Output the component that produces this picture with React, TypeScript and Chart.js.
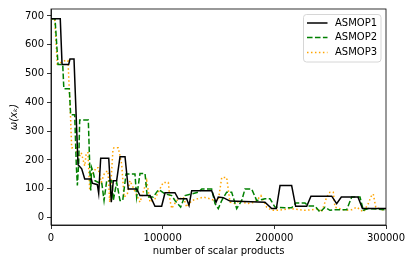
import React, { useEffect, useRef } from "react";
import { Chart, registerables } from "chart.js";

Chart.register(...registerables);

const xTickValues = [0, 100000, 200000, 300000];
const yTickValues = [0, 100, 200, 300, 400, 500, 600, 700];
const seriesLabels = ["ASMOP1", "ASMOP2", "ASMOP3"];
const xTitle = "number of scalar products";
const yTitle = "ω(xₖ)";

const asmop1X = [0, 8300, 9900, 15800, 17000, 20600, 24200, 27500, 30200, 36100, 37000, 41500, 42700, 44500, 51700, 54000, 55800, 58800, 61800, 66300, 69200, 76700, 79700, 88700, 93100, 99100, 102100, 111000, 114000, 121500, 123600, 126000, 143900, 147800, 149800, 154300, 160300, 191600, 197600, 201800, 205100, 215500, 219100, 229000, 232800, 251400, 255800, 260000, 274900, 278900, 300000];
const asmop1Y = [690, 690, 531, 531, 550, 550, 183, 169, 134, 134, 119, 114, 84, 206, 206, 53, 128, 128, 211, 211, 99, 99, 76, 76, 39, 39, 86, 86, 65, 65, 42, 93, 93, 53, 71, 69, 57, 53, 31, 31, 111, 111, 39, 39, 74, 74, 48, 71, 71, 31, 31];

const asmop2X = [0, 3600, 6300, 10500, 11500, 16400, 17600, 21200, 22700, 23600, 24800, 25700, 33400, 34700, 35600, 36400, 37900, 39400, 42400, 45400, 47500, 49900, 54400, 55800, 58800, 61800, 64200, 67200, 75200, 76700, 79700, 84200, 86200, 91600, 96100, 97600, 102100, 108100, 111000, 116100, 120000, 131900, 135000, 143900, 146900, 149800, 152900, 157300, 161800, 166300, 170800, 173700, 179700, 184200, 191600, 196100, 200600, 209500, 215500, 219100, 227500, 230500, 236400, 240900, 245400, 249800, 254300, 264800, 269300, 276700, 279700, 284100, 300000];
const asmop2Y = [690, 690, 531, 531, 447, 447, 357, 357, 179, 111, 191, 339, 339, 179, 94, 173, 156, 128, 122, 122, 59, 128, 128, 59, 122, 59, 59, 151, 151, 71, 153, 153, 71, 71, 96, 94, 82, 76, 59, 36, 76, 88, 99, 99, 48, 31, 59, 88, 88, 31, 59, 99, 99, 59, 65, 65, 36, 34, 34, 50, 50, 40, 40, 19, 36, 25, 27, 27, 71, 71, 25, 31, 27];

const asmop3X = [0, 3300, 5600, 12800, 15200, 17600, 18500, 22700, 24200, 27100, 30200, 31600, 33100, 34700, 36100, 40600, 42100, 45000, 48100, 51000, 52600, 55500, 56400, 60300, 63300, 65400, 68400, 70700, 79700, 85700, 88700, 93100, 99100, 100600, 105100, 106600, 108100, 112500, 118500, 121500, 126000, 136400, 142400, 146900, 149800, 152900, 157300, 160300, 164800, 169300, 175300, 182700, 188000, 193100, 197600, 203600, 214000, 227500, 233500, 239400, 242400, 246900, 249800, 252800, 254300, 263300, 269300, 273800, 279700, 284100, 286600, 288600, 290800, 296100, 300000];
const asmop3Y = [688, 688, 533, 545, 545, 340, 242, 242, 202, 225, 179, 225, 225, 94, 145, 173, 173, 122, 156, 162, 53, 237, 242, 242, 185, 71, 82, 128, 53, 128, 53, 65, 111, 122, 122, 59, 31, 59, 71, 36, 59, 71, 65, 59, 59, 139, 139, 53, 48, 59, 48, 53, 76, 36, 25, 25, 31, 25, 27, 31, 19, 71, 88, 88, 36, 25, 27, 36, 19, 48, 73, 82, 36, 27, 27];

const zip = (xs: number[], ys: number[]) => xs.map((x, i) => ({ x, y: ys[i] }));

const FONT = "'DejaVu Sans', sans-serif";

const framePlugin = {
  id: "frameAndLegend",
  afterDatasetsDraw(chart: any) {
    const { ctx, chartArea } = chart;
    ctx.save();
    ctx.strokeStyle = "#000";
    ctx.lineWidth = 0.8;
    ctx.strokeRect(chartArea.left, chartArea.top, chartArea.right - chartArea.left, chartArea.bottom - chartArea.top);

    // legend (upper right)
    const bx = chartArea.right - 82.5;
    const by = chartArea.top + 5.5;
    const bw = 77.5;
    const bh = 47.5;
    const r = 3;
    ctx.beginPath();
    ctx.moveTo(bx + r, by);
    ctx.lineTo(bx + bw - r, by);
    ctx.arcTo(bx + bw, by, bx + bw, by + r, r);
    ctx.lineTo(bx + bw, by + bh - r);
    ctx.arcTo(bx + bw, by + bh, bx + bw - r, by + bh, r);
    ctx.lineTo(bx + r, by + bh);
    ctx.arcTo(bx, by + bh, bx, by + bh - r, r);
    ctx.lineTo(bx, by + r);
    ctx.arcTo(bx, by, bx + r, by, r);
    ctx.closePath();
    ctx.fillStyle = "rgba(255,255,255,0.8)";
    ctx.fill();
    ctx.strokeStyle = "#d6d6d6";
    ctx.lineWidth = 1;
    ctx.stroke();

    const rows = [20, 34.5, 49.5];
    chart.data.datasets.forEach((ds: any, i: number) => {
      const y = rows[i] - 6 + chartArea.top;
      ctx.beginPath();
      ctx.setLineDash(ds.borderDash || []);
      ctx.strokeStyle = ds.borderColor;
      ctx.lineWidth = ds.borderWidth;
      ctx.moveTo(bx + 3.5, y);
      ctx.lineTo(bx + 24, y);
      ctx.stroke();
      ctx.setLineDash([]);
      ctx.fillStyle = "#000";
      ctx.font = `10px ${FONT}`;
      ctx.textBaseline = "middle";
      ctx.textAlign = "left";
      ctx.fillText(ds.label, bx + 31.5, y);
    });
    ctx.restore();
  },
};

export default function App() {
  const ref = useRef<HTMLCanvasElement | null>(null);

  useEffect(() => {
    document.body.style.margin = "0";
    if (!ref.current) return;
    const chart = new Chart(ref.current, {
      type: "line",
      data: {
        datasets: [
          {
            label: seriesLabels[0],
            data: zip(asmop1X, asmop1Y),
            borderColor: "#000000",
            borderWidth: 1.5,
            pointRadius: 0,
            tension: 0,
            fill: false,
          },
          {
            label: seriesLabels[1],
            data: zip(asmop2X, asmop2Y),
            borderColor: "#008000",
            borderWidth: 1.5,
            borderDash: [5.55, 2.4],
            pointRadius: 0,
            tension: 0,
            fill: false,
          },
          {
            label: seriesLabels[2],
            data: zip(asmop3X, asmop3Y),
            borderColor: "#FFA500",
            borderWidth: 1.5,
            borderDash: [1.5, 2.475],
            pointRadius: 0,
            tension: 0,
            fill: false,
          },
        ],
      },
      options: {
        animation: false,
        responsive: false,
        devicePixelRatio: 1,
        layout: { padding: { top: 6, right: 26, left: 0, bottom: 0 } },
        plugins: { legend: { display: false }, tooltip: { enabled: false } },
        scales: {
          x: {
            type: "linear",
            min: 0,
            max: 300000,
            afterBuildTicks: (s: any) => {
              s.ticks = xTickValues.map((v) => ({ value: v }));
            },
            afterFit: (s: any) => {
              s.height = 37;
            },
            ticks: {
              color: "#000",
              font: { family: FONT, size: 10 },
              padding: 3,
              maxRotation: 0,
              callback: (v: any) => String(v),
            },
            grid: { drawOnChartArea: false, drawTicks: true, tickLength: 4, color: "#000", lineWidth: 0.8 },
            border: { display: true, color: "#000", width: 0.8 },
            title: {
              display: true,
              text: xTitle,
              color: "#000",
              font: { family: FONT, size: 10 },
              padding: { top: 0, bottom: 5 },
            },
          },
          y: {
            type: "linear",
            min: -26,
            max: 724,
            afterBuildTicks: (s: any) => {
              s.ticks = yTickValues.map((v) => ({ value: v }));
            },
            afterFit: (s: any) => {
              s.width = 51;
            },
            ticks: {
              color: "#000",
              font: { family: FONT, size: 10 },
              padding: 3,
              callback: (v: any) => String(v),
            },
            grid: { drawOnChartArea: false, drawTicks: true, tickLength: 4, color: "#000", lineWidth: 0.8 },
            border: { display: true, color: "#000", width: 0.8 },
            title: {
              display: true,
              text: yTitle,
              color: "#000",
              font: { family: FONT, size: 10, style: "italic" },
              padding: { top: 8, bottom: 0 },
            },
          },
        },
      },
      plugins: [framePlugin],
    });
    return () => chart.destroy();
  }, []);

  return (
    <div style={{ width: 412, height: 262 }}>
      <canvas ref={ref} width={412} height={262} style={{ width: 412, height: 262, display: "block" }} />
    </div>
  );
}
